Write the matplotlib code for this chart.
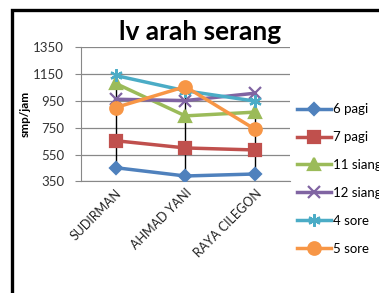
import matplotlib
matplotlib.use("Agg")
import matplotlib.pyplot as plt
from matplotlib.patches import Rectangle

plt.rcParams['font.family'] = ['Lato', 'DejaVu Sans']

# data
lokasi = ["SUDIRMAN", "AHMAD YANI", "RAYA CILEGON"]
pagi6 = [452, 390, 405]
pagi7 = [653, 599, 584]
siang11 = [1080, 838, 866]
siang12 = [962, 952, 1007]
sore4 = [1139, 1025, 948]
sore5 = [900, 1056, 738]

series = [
    ("6 pagi", pagi6, "#4F81BD", "D", 6),
    ("7 pagi", pagi7, "#C0504D", "s", 8),
    ("11 siang", siang11, "#9BBB59", "^", 8),
    ("12 siang", siang12, "#8064A2", "x", 8),
    ("4 sore", sore4, "#4BACC6", (6, 2, 0), 9),
    ("5 sore", sore5, "#F79646", "o", 9),
]

fig = plt.figure(figsize=(3.79, 2.93), dpi=100)
fig.patch.set_facecolor("white")

# outer frame (cut off at right and bottom like the screenshot)
fig.patches.append(Rectangle((12/379, -0.2), 1.2, 1 - 10/293 + 0.2,
                             transform=fig.transFigure, fill=False,
                             edgecolor="black", linewidth=2.4))

ax = fig.add_axes([0.213, 0.381, 0.552, 0.458])
x = list(range(len(lokasi)))

# high-low lines
allv = [pagi6, pagi7, siang11, siang12, sore4, sore5]
lows = [min(v[i] for v in allv) for i in x]
highs = [max(v[i] for v in allv) for i in x]
ax.vlines(x, lows, highs, color="black", linewidth=1, zorder=2)

for name, vals, col, mk, ms in series:
    ax.plot(x, vals, color=col, marker=mk, markersize=ms, linewidth=2.5,
            markeredgewidth=1.6, label=name, zorder=3)

ax.set_xlim(-0.5, 2.5)
ax.set_ylim(350, 1350)
ax.set_yticks([350, 550, 750, 950, 1150, 1350])
ax.grid(axis="y", color="#888888", linewidth=0.9)
ax.set_axisbelow(True)
for s in ["top", "right"]:
    ax.spines[s].set_visible(False)
ax.spines["left"].set_color("#888888")
ax.spines["bottom"].set_color("#888888")
ax.tick_params(axis="y", labelsize=9.5, colors="#888888", labelcolor="#333333",
               length=4, pad=8)
ax.tick_params(axis="x", length=0, pad=4)
ax.set_xticks(x)
ax.set_xticklabels(lokasi, rotation=45, ha="right", va="top",
                   rotation_mode="anchor", fontsize=9, color="#222222")

fig.text(200/379, 1 - 32/293, "lv arah serang", fontsize=19,
         fontweight="bold", ha="center", va="center")
ax.set_ylabel("smp/jam", fontsize=8.5, fontweight="bold", labelpad=2)

ax.legend(loc="upper left", bbox_to_anchor=(1.0, 0.63), frameon=False,
          fontsize=9.5, handlelength=2.6, handletextpad=0.2,
          labelspacing=1.2, borderaxespad=0.1)

fig.savefig("out.png", dpi=100)
